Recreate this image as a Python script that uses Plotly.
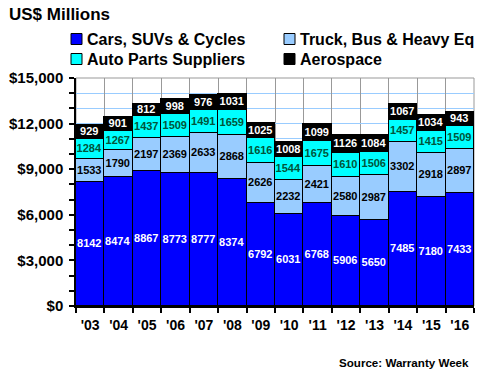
import plotly.graph_objects as go

years = ["'03", "'04", "'05", "'06", "'07", "'08", "'09", "'10", "'11", "'12", "'13", "'14", "'15", "'16"]
cars = [8142, 8474, 8867, 8773, 8777, 8374, 6792, 6031, 6768, 5906, 5650, 7485, 7180, 7433]
truck = [1533, 1790, 2197, 2369, 2633, 2868, 2626, 2232, 2421, 2580, 2987, 3302, 2918, 2897]
parts = [1284, 1267, 1437, 1509, 1491, 1659, 1616, 1544, 1675, 1610, 1506, 1457, 1415, 1509]
aero = [929, 901, 812, 998, 976, 1031, 1025, 1008, 1099, 1126, 1084, 1067, 1034, 943]

series = [
    ("Cars, SUVs & Cycles", cars, "#0000FF", "white"),
    ("Truck, Bus & Heavy Eq", truck, "#99CCFF", "black"),
    ("Auto Parts Suppliers", parts, "#00FFFF", "#00553A"),
    ("Aerospace", aero, "#000000", "white"),
]

FONT = "Liberation Sans, Arial, sans-serif"
W, H = 480, 380
ML, MR, MT, MB = 76, 6, 78, 74
PW, PH = W - ML - MR, H - MT - MB


def px(x):
    return (x - ML) / PW


def py(y):
    return (H - MB - y) / PH


fig = go.Figure()
for name, vals, color, tcolor in series:
    fig.add_trace(go.Bar(
        x=years, y=vals, name=name,
        marker=dict(color=color, line=dict(color="black", width=1.5)),
        text=[str(v) for v in vals],
        textposition="inside",
        insidetextanchor="middle",
        textangle=0,
        constraintext="none",
        textfont=dict(family=FONT, size=11, color=tcolor, weight="bold"),
        hoverinfo="skip",
        showlegend=False,
    ))

annotations = [
    dict(text="<b>US$ Millions</b>", x=px(7), y=py(15), xref="paper", yref="paper",
         showarrow=False, xanchor="left", yanchor="middle",
         font=dict(family=FONT, size=17, color="black")),
    dict(text="<b>Source: Warranty Week</b>", x=px(471), y=py(362), xref="paper", yref="paper",
         showarrow=False, xanchor="right", yanchor="middle",
         font=dict(family=FONT, size=11.6, color="black")),
]
shapes = []

legend_pos = [(71, 39), (284, 39), (71, 59), (284, 59)]
for (name, vals, color, tcolor), (lx, ly) in zip(series, legend_pos):
    shapes.append(dict(type="rect", xref="paper", yref="paper",
                       x0=px(lx), x1=px(lx + 11), y0=py(ly - 5.5), y1=py(ly + 5.5),
                       fillcolor=color, line=dict(color="black", width=1)))
    annotations.append(dict(text="<b>" + name.replace("&", "&amp;") + "</b>",
                            x=px(lx + 14), y=py(ly), xref="paper", yref="paper",
                            showarrow=False, xanchor="left", yanchor="middle",
                            font=dict(family=FONT, size=16, color="black")))

shapes.append(dict(type="rect", xref="paper", yref="paper", x0=0, x1=1, y0=0, y1=1,
                   line=dict(color="#999999", width=1), layer="below"))

fig.update_layout(
    width=W, height=H,
    barmode="stack", bargap=0,
    plot_bgcolor="white", paper_bgcolor="white",
    margin=dict(l=ML, r=MR, t=MT, b=MB, autoexpand=False),
    font=dict(family=FONT, color="black"),
    showlegend=False,
    annotations=annotations,
    shapes=shapes,
)

fig.update_xaxes(
    type="category", tickson="boundaries", tickangle=0, automargin=False,
    showgrid=True, gridcolor="#999999", gridwidth=1,
    showline=True, linecolor="black", linewidth=1.5,
    ticks="outside", ticklen=5, tickcolor="black", tickwidth=1.5,
    ticklabelstandoff=5,
    tickfont=dict(family=FONT, size=14, weight="bold"),
    fixedrange=True,
)
fig.update_yaxes(
    range=[0, 15000], dtick=3000, tick0=0, tickformat="$,.0f", automargin=False,
    showgrid=True, gridcolor="#99CCFF", gridwidth=1,
    showline=True, linecolor="black", linewidth=1.5,
    ticks="outside", ticklen=5, tickcolor="black", tickwidth=1.5,
    ticklabelstandoff=3,
    tickfont=dict(family=FONT, size=15, weight="bold"),
    minor=dict(dtick=1000, ticks="outside", ticklen=5, tickcolor="black",
               showgrid=True, gridcolor="#99CCFF", gridwidth=1),
    zeroline=False,
    fixedrange=True,
)

fig.write_html("out.html", config={"displayModeBar": False},
               post_script="document.body.style.margin='0';")
